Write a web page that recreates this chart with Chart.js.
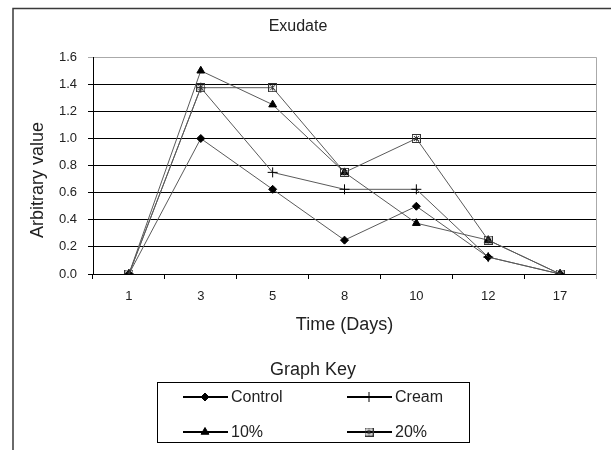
<!DOCTYPE html>
<html>
<head>
<meta charset="utf-8">
<script src="https://cdn.jsdelivr.net/npm/chart.js@4/dist/chart.umd.min.js"></script>
<style>
  html, body { margin: 0; padding: 0; background: #fff; }
  canvas { display: block; }
</style>
</head>
<body>
<canvas id="exudateChart" width="611" height="450"></canvas>
<script>
// values
const days = ['1', '3', '5', '8', '10', '12', '17'];
const control = [0, 1.0, 0.625, 0.25, 0.5, 0.125, 0];
const cream = [0, 1.375, 0.75, 0.625, 0.625, 0.125, 0];
const tenPct = [0, 1.5, 1.25, 0.75, 0.375, 0.25, 0];
const twentyPct = [0, 1.375, 1.375, 0.75, 1.0, 0.25, 0];
const yMax = 1.6;
const yStep = 0.2;

const FONT = "'Liberation Sans', Arial, sans-serif";

// little boxed star marker for the 20% series
function makeBoxMarker() {
    const c = document.createElement('canvas');
    c.width = 9;
    c.height = 9;
    const g = c.getContext('2d');
    g.strokeStyle = '#333';
    g.lineWidth = 1;
    g.strokeRect(0.5, 0.5, 8, 8);
    g.beginPath();
    g.moveTo(2, 2); g.lineTo(7, 7);
    g.moveTo(7, 2); g.lineTo(2, 7);
    g.moveTo(4.5, 1.5); g.lineTo(4.5, 7.5);
    g.stroke();
    return c;
}
const boxMarker = makeBoxMarker();

function series(label, data, pointStyle, radius, order) {
    return {
        label: label,
        data: data,
        order: order,
        borderColor: '#5a5a5a',
        borderWidth: 1,
        pointStyle: pointStyle,
        pointRadius: radius,
        pointBackgroundColor: '#000',
        pointBorderColor: '#000',
        pointBorderWidth: 1,
        tension: 0
    };
}

// frame round the whole picture, grey right edge of the plot, y title
const framePlugin = {
    id: 'frame',
    beforeDraw(chart) {
        const ctx = chart.ctx;
        ctx.save();
        ctx.strokeStyle = '#3a3a3a';
        ctx.lineWidth = 1.5;
        ctx.beginPath();
        ctx.moveTo(13, 451);
        ctx.lineTo(13, 8.5);
        ctx.lineTo(612, 8.5);
        ctx.stroke();

        // y axis title sits a bit below the middle of the plot, like the original
        ctx.translate(38, 180);
        ctx.rotate(-Math.PI / 2);
        ctx.fillStyle = '#222';
        ctx.font = '18px ' + FONT;
        ctx.textAlign = 'center';
        ctx.textBaseline = 'middle';
        ctx.fillText('Arbitrary value', 0, 0);
        ctx.restore();
    },
    afterDatasetsDraw(chart) {
        const a = chart.chartArea;
        const ctx = chart.ctx;
        ctx.save();
        ctx.strokeStyle = '#aaa';
        ctx.lineWidth = 1;
        ctx.beginPath();
        ctx.moveTo(Math.round(a.right) + 0.5, a.top);
        ctx.lineTo(Math.round(a.right) + 0.5, a.bottom + 5);
        ctx.stroke();
        ctx.restore();
    }
};

// the boxed "Graph Key" under the chart, two columns
const keyPlugin = {
    id: 'graphKey',
    afterDraw(chart) {
        const ctx = chart.ctx;
        const box = { x: 157, y: 382, w: 312, h: 60 };
        ctx.save();
        ctx.fillStyle = '#222';
        ctx.font = '18px ' + FONT;
        ctx.textAlign = 'center';
        ctx.textBaseline = 'middle';
        ctx.fillText('Graph Key', 313, 370);

        ctx.strokeStyle = '#000';
        ctx.lineWidth = 1;
        ctx.strokeRect(box.x + 0.5, box.y + 0.5, box.w, box.h);

        const cols = [183, 347];
        const rows = [397, 432];
        ctx.font = '16px ' + FONT;
        ctx.textAlign = 'left';
        chart.data.datasets.forEach((ds, i) => {
            const x = cols[i % 2];
            const y = rows[Math.floor(i / 2)];
            ctx.strokeStyle = '#000';
            ctx.lineWidth = 2;
            ctx.beginPath();
            ctx.moveTo(x, y);
            ctx.lineTo(x + 45, y);
            ctx.stroke();
            ctx.fillStyle = '#000';
            ctx.lineWidth = 1;
            Chart.helpers.drawPoint(ctx, {
                pointStyle: ds.pointStyle,
                radius: ds.pointRadius,
                borderWidth: 1,
                rotation: 0
            }, x + 22, y);
            ctx.fillStyle = '#222';
            ctx.fillText(ds.label, x + 48, y + 1);
        });
        ctx.restore();
    }
};

const ctx = document.getElementById('exudateChart').getContext('2d');
new Chart(ctx, {
    type: 'line',
    data: {
        labels: days,
        datasets: [
            series('Control', control, 'rectRot', 4, 4),
            series('Cream', cream, 'cross', 5, 3),
            series('10%', tenPct, 'triangle', 4.5, 2),
            series('20%', twentyPct, boxMarker, 4.5, 1)
        ]
    },
    options: {
        responsive: false,
        animation: false,
        layout: {
            padding: { left: 0, top: 0, right: 15, bottom: 114 }
        },
        plugins: {
            legend: { display: false },
            tooltip: { enabled: false },
            title: {
                display: true,
                text: 'Exudate',
                color: '#222',
                font: { family: FONT, size: 16, weight: 'normal' },
                padding: { top: 17, bottom: 21 }
            }
        },
        scales: {
            x: {
                type: 'category',
                offset: true,
                afterFit: s => { s.height = 62; },
                grid: {
                    offset: true,
                    drawOnChartArea: false,
                    drawTicks: true,
                    tickLength: 5,
                    color: '#000'
                },
                border: { color: '#000', width: 1 },
                ticks: {
                    color: '#222',
                    padding: 10,
                    font: { family: FONT, size: 13 }
                },
                title: {
                    display: true,
                    text: 'Time (Days)',
                    color: '#222',
                    font: { family: FONT, size: 18 },
                    padding: { top: 0, bottom: 0 }
                }
            },
            y: {
                min: 0,
                max: yMax,
                afterFit: s => { s.width = 93; },
                grid: {
                    drawTicks: true,
                    tickLength: 5,
                    color: c => (c.tick && c.tick.value >= yMax - 1e-9 ? '#aaa' : '#000'),
                    lineWidth: 1
                },
                border: { color: '#000', width: 1 },
                ticks: {
                    stepSize: yStep,
                    color: '#222',
                    padding: 11,
                    font: { family: FONT, size: 13 },
                    callback: v => Number(v).toFixed(1)
                }
            }
        }
    },
    plugins: [framePlugin, keyPlugin]
});
</script>
</body>
</html>
